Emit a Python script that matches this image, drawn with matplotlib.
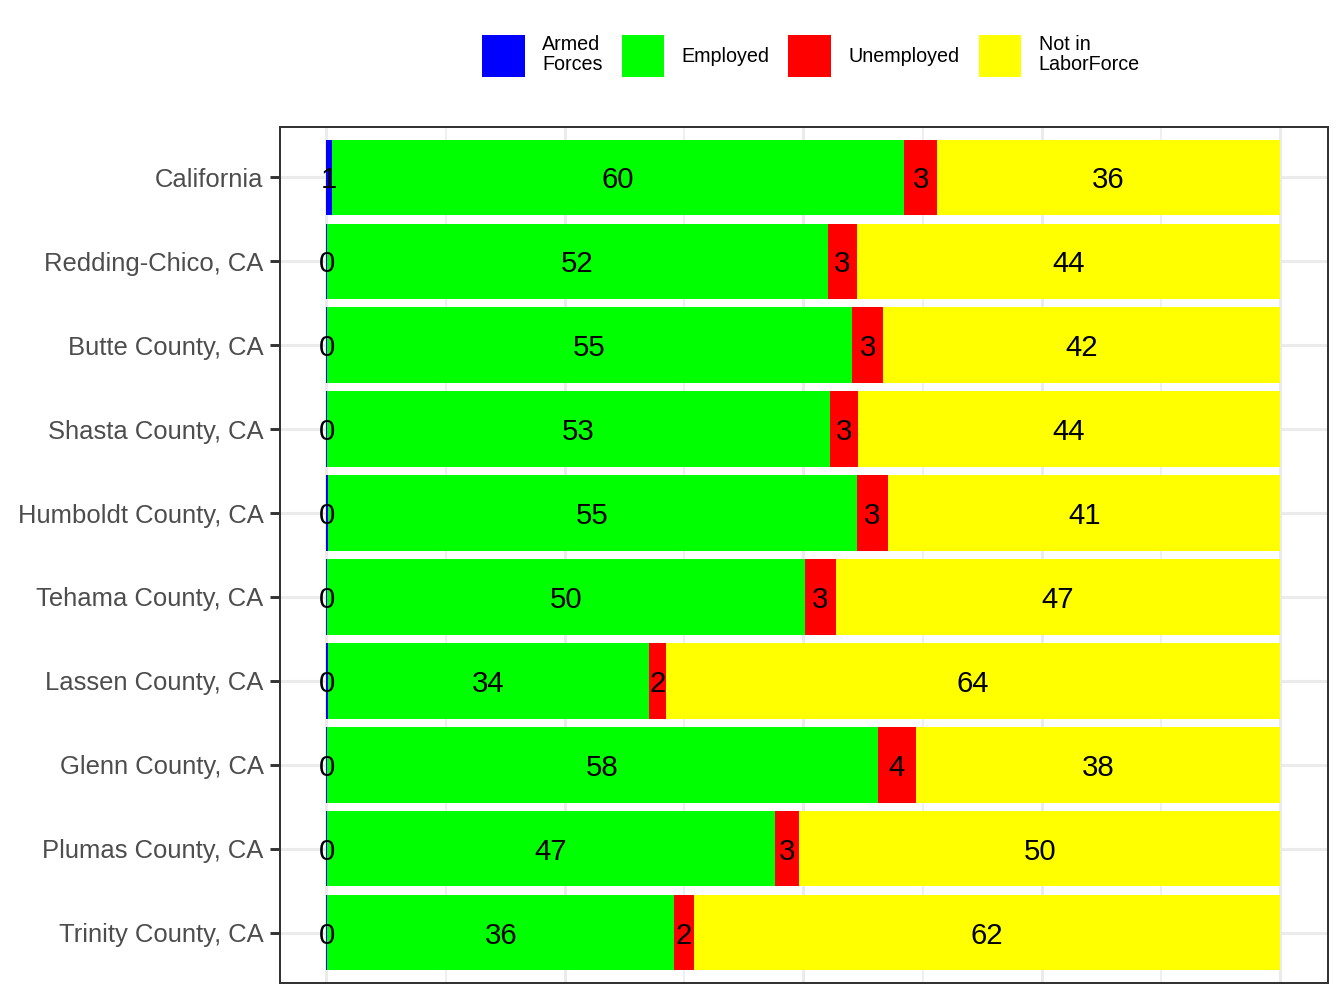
import numpy as np
import matplotlib.pyplot as plt
from matplotlib.patches import Patch

plt.rcParams['font.family'] = ['Liberation Sans', 'DejaVu Sans']

# Данные (проценты), сверху вниз
places = ["California", "Redding-Chico, CA", "Butte County, CA", "Shasta County, CA",
          "Humboldt County, CA", "Tehama County, CA", "Lassen County, CA",
          "Glenn County, CA", "Plumas County, CA", "Trinity County, CA"]
armed = [0.6, 0.1, 0.1, 0.1, 0.2, 0.1, 0.2, 0.1, 0.1, 0.1]
employed = [60.0, 52.5, 55.0, 52.7, 55.4, 50.1, 33.6, 57.7, 46.9, 36.4]
unemployed = [3.4, 3.0, 3.3, 2.9, 3.3, 3.2, 1.8, 4.0, 2.6, 2.0]
not_in_lf = [36.0, 44.4, 41.6, 44.3, 41.1, 46.6, 64.4, 38.2, 50.4, 61.5]

series = [armed, employed, unemployed, not_in_lf]
names = ["Armed\nForces", "Employed", "Unemployed", "Not in\nLaborForce"]
colors = ["#0000FF", "#00FF00", "#FF0000", "#FFFF00"]

fig = plt.figure(figsize=(7, 5.25), dpi=192)
ax = fig.add_axes([280 / 1344, 1 - 983 / 1008, 1048 / 1344, 856 / 1008])

y = np.arange(len(places))
left = np.zeros(len(places))
for vals, col in zip(series, colors):
    vals = np.array(vals)
    ax.barh(y, vals, left=left, height=0.9, color=col, zorder=2)
    for yi, l, v in zip(y, left, vals):
        ax.text(l + v / 2, yi, f"{round(v):d}", ha="center", va="center_baseline",
                fontsize=11, color="black", zorder=3)
    left += vals

ax.set_xlim(-4.85, 105.0)
ax.set_ylim(len(places) - 0.4, -0.6)
ax.set_yticks(y)
ax.set_yticklabels(places, fontsize=9.6, color="#4D4D4D")
ax.set_xticks([0, 25, 50, 75, 100])
ax.set_xticks([12.5, 37.5, 62.5, 87.5], minor=True)
ax.tick_params(axis="x", which="both", length=0, labelbottom=False)
ax.tick_params(axis="y", length=3.7, width=1.1, color="#333333", pad=2.4)
ax.grid(True, which="major", color="#EBEBEB", linewidth=1.16, zorder=0)
ax.grid(True, which="minor", axis="x", color="#EBEBEB", linewidth=0.58, zorder=0)
ax.set_axisbelow(True)
for sp in ax.spines.values():
    sp.set_color("#333333")
    sp.set_linewidth(0.75)

handles = [Patch(facecolor=c, edgecolor="none") for c in colors]
leg = fig.legend(handles, names, loc="center", bbox_to_anchor=(811 / 1344, 1 - 56 / 1008),
                 ncol=4, frameon=False, fontsize=7.4, handlelength=2.15, handleheight=2.95,
                 handletextpad=0.9, columnspacing=0.95)
for t in leg.get_texts():
    t.set_linespacing(1.1)

fig.savefig("out.png", dpi=192)
